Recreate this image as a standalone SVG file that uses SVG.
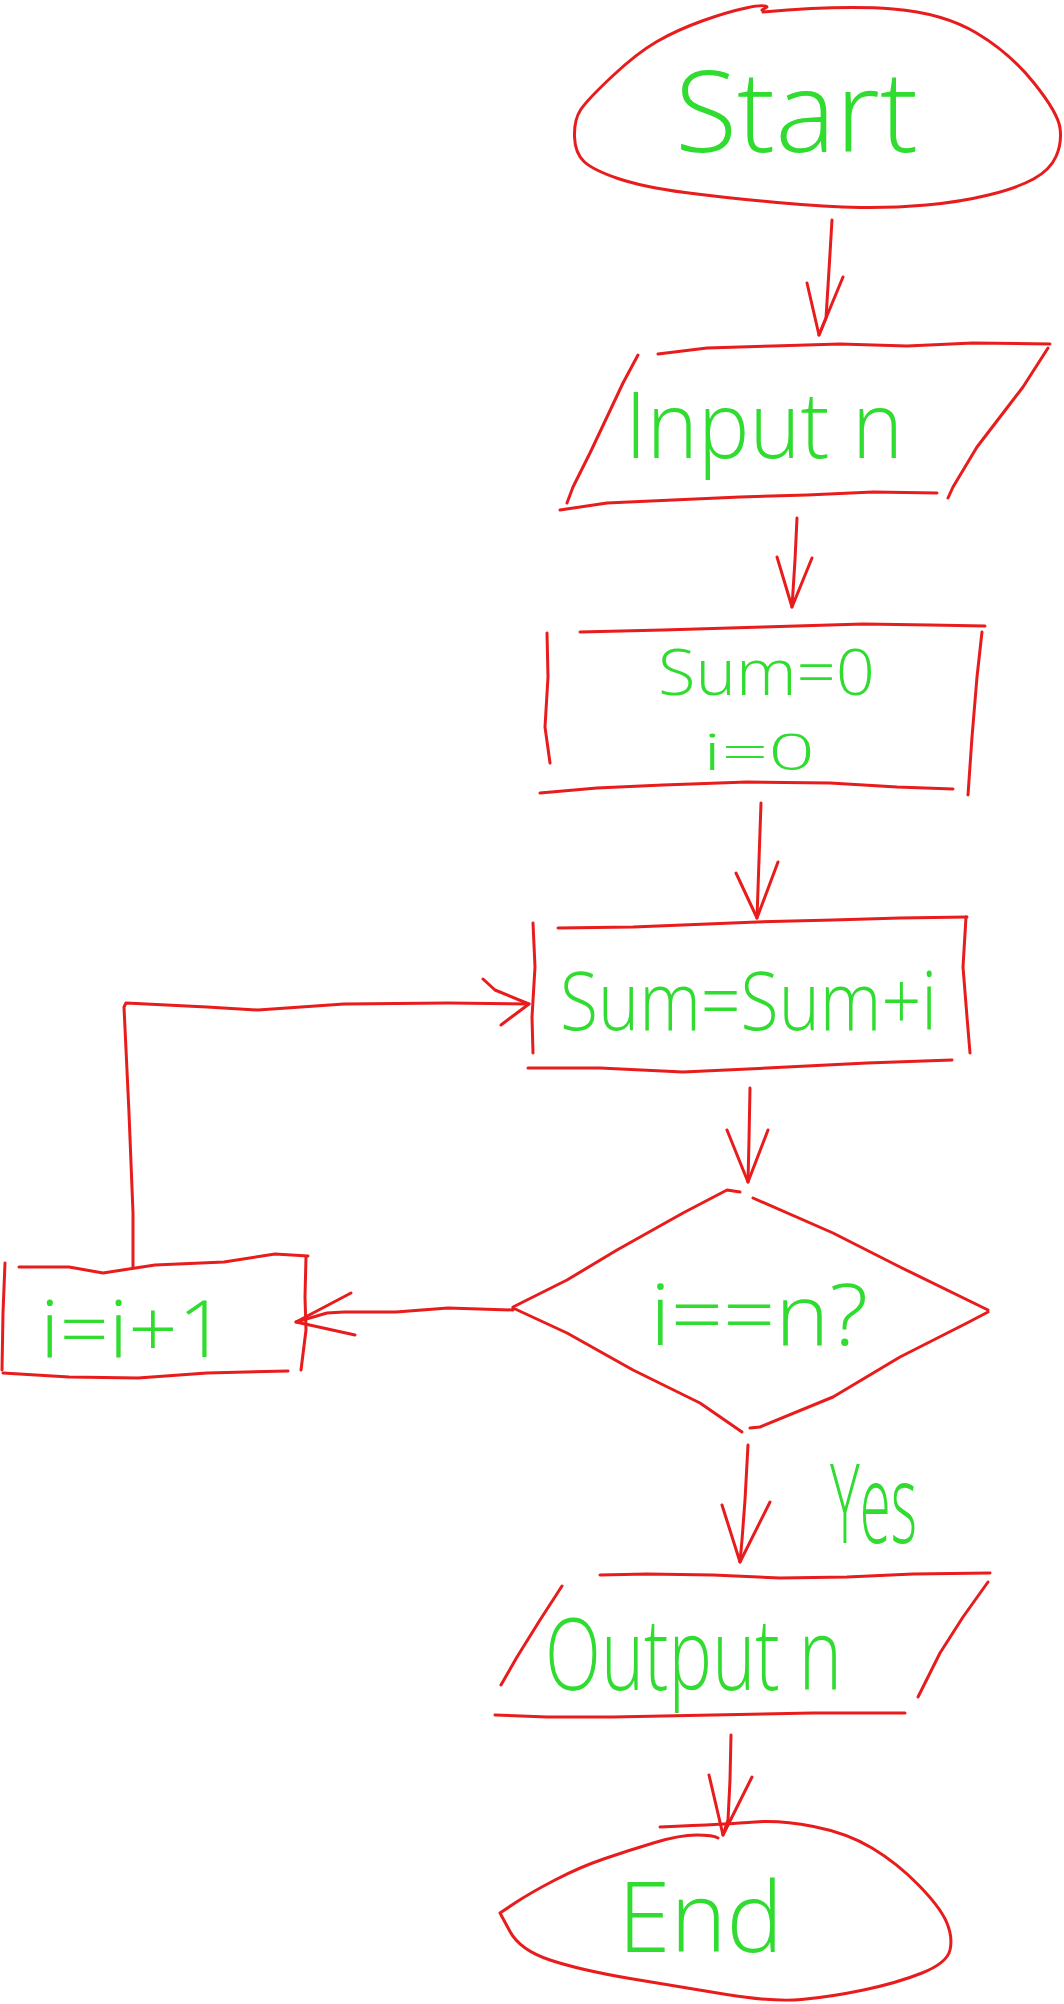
<svg xmlns="http://www.w3.org/2000/svg" width="1064" height="2004" viewBox="0 0 1064 2004">
<style>
.s{fill:none;stroke:#e81c1c;stroke-width:3;stroke-linecap:round;stroke-linejoin:round}
.t{fill:#2fdc2f;font-family:"Open Sans","DejaVu Sans",sans-serif;font-weight:300}
</style>
<rect width="1064" height="2004" fill="#ffffff"/>
<g id="start">
<path class="s" d="M763,12 Q843,5 893,9 Q943,13 976.5,33 Q1010,53 1034,83 Q1058,113 1060,128 Q1062,143 1056,156.5 Q1050,170 1033.5,179 Q1017,188 988.5,195 Q960,202 926.5,205 Q893,208 860,207.5 Q827,207 777,202.5 Q727,198 685,192.5 Q643,187 618,178.5 Q593,170 584,161.5 Q575,153 574.5,136.5 Q574,120 580.5,110 Q587,100 612,76.5 Q637,53 657,41.5 Q677,30 702,21 Q727,12 746,8 Q765,4 767,7 L762,10"/>
<text class="t" x="675" y="152" font-size="112" textLength="243" lengthAdjust="spacingAndGlyphs">Start</text>
</g>
<g id="input">
<polyline class="s" points="658,354 707,348 773,346 840,344 907,346 973,343 1050,344"/>
<polyline class="s" points="1048,348 1023,387 1000,417 977,447 953,487 948,498"/>
<polyline class="s" points="560,510 607,503 673,500 740,497 807,495 873,492 937,493"/>
<polyline class="s" points="638,355 623,383 607,417 590,453 573,487 567,503"/>
<text class="t" x="625" y="458" font-size="92" textLength="278" lengthAdjust="spacingAndGlyphs">Input n</text>
</g>
<g id="init">
<polyline class="s" points="580,632 663,630 763,627 863,624 930,625 985,626"/>
<polyline class="s" points="547,633 548,677 545,727 550,763"/>
<polyline class="s" points="982,632 977,677 972,737 968,795"/>
<polyline class="s" points="540,793 597,788 663,785 747,782 830,783 897,787 953,789"/>
<text class="t" x="658" y="695" font-size="64" textLength="217" lengthAdjust="spacingAndGlyphs">Sum=0</text>
<text class="t" x="703" y="770" font-size="50" textLength="112" lengthAdjust="spacingAndGlyphs">i=0</text>
</g>
<g id="accumulate">
<polyline class="s" points="558,928 633,927 757,922 833,920 900,918 967,917"/>
<polyline class="s" points="533,923 535,967 532,1017 533,1053"/>
<polyline class="s" points="966,917 963,967 967,1017 970,1053"/>
<polyline class="s" points="528,1068 600,1068 683,1072 767,1068 867,1063 952,1060"/>
<text class="t" x="560" y="1030" font-size="82" textLength="377" lengthAdjust="spacingAndGlyphs">Sum=Sum+i</text>
</g>
<g id="decision">
<polyline class="s" points="513,1307 567,1280 617,1250 683,1213 727,1190 740,1192"/>
<polyline class="s" points="753,1198 833,1233 900,1267 988,1310"/>
<polyline class="s" points="988,1312 967,1323 900,1357 833,1397 760,1427 750,1428"/>
<polyline class="s" points="513,1308 567,1333 633,1370 700,1403 742,1432"/>
<text class="t" x="650" y="1345" font-size="85" textLength="218" lengthAdjust="spacingAndGlyphs">i==n?</text>
</g>
<g id="increment">
<polyline class="s" points="19,1267 69,1267 103,1273 155,1265 224,1262 275,1254 308,1256"/>
<polyline class="s" points="5,1263 3,1313 2,1370"/>
<polyline class="s" points="306,1257 305,1297 306,1330 301,1370"/>
<polyline class="s" points="3,1373 69,1377 138,1378 207,1373 288,1371"/>
<text class="t" x="40" y="1357" font-size="80" textLength="187" lengthAdjust="spacingAndGlyphs">i=i+1</text>
</g>
<g id="output">
<polyline class="s" points="600,1575 647,1574 713,1575 780,1578 847,1577 913,1574 990,1573"/>
<polyline class="s" points="988,1582 963,1617 940,1653 918,1697"/>
<polyline class="s" points="495,1715 547,1717 613,1717 713,1715 813,1713 905,1713"/>
<polyline class="s" points="562,1586 540,1620 517,1657 501,1685"/>
<text class="t" x="545" y="1690" font-size="100" textLength="297" lengthAdjust="spacingAndGlyphs">Output n</text>
</g>
<g id="end">
<path class="s" d="M660,1827 Q730,1824 755,1822 Q780,1820 813.5,1826.5 Q847,1833 872,1848 Q897,1863 918.5,1885 Q940,1907 946.5,1922 Q953,1937 950,1950 Q947,1963 922,1973 Q897,1983 863.5,1990 Q830,1997 801.5,1999.5 Q773,2002 726.5,1994.5 Q680,1987 630,1978.5 Q580,1970 550,1960 Q520,1950 510,1931.5 L500,1913 L515,1903 Q530,1893 555,1880 Q580,1867 605,1858.5 Q630,1850 655,1842.5 Q680,1835 696.5,1835 Q713,1835 718,1838"/>
<text class="t" x="618" y="1952" font-size="98" textLength="165" lengthAdjust="spacingAndGlyphs">End</text>
</g>
<g id="connectors">
<polyline class="s" points="832,220 829,270 826,318 819,335"/>
<polyline class="s" points="807,283 819,335 843,277"/>
<polyline class="s" points="797,518 795,560 792,607"/>
<polyline class="s" points="777,557 792,607 812,558"/>
<polyline class="s" points="761,803 759,860 757,918"/>
<polyline class="s" points="736,873 757,918 778,862"/>
<polyline class="s" points="750,1088 749,1140 748,1182"/>
<polyline class="s" points="727,1130 748,1182 768,1130"/>
<polyline class="s" points="513,1310 448,1308 396,1312 344,1312 327,1313 296,1322"/>
<polyline class="s" points="351,1293 296,1322 355,1335"/>
<polyline class="s" points="133,1267 133,1213 129,1113 124,1007 126,1003 207,1007 258,1010 344,1004 448,1003 529,1004"/>
<polyline class="s" points="483,979 495,990 529,1004 501,1025"/>
<polyline class="s" points="748,1445 745,1500 742,1540 740,1562"/>
<polyline class="s" points="722,1505 740,1562 770,1502"/>
<text class="t" x="830" y="1543" font-size="110" textLength="87" lengthAdjust="spacingAndGlyphs">Yes</text>
<polyline class="s" points="731,1735 730,1780 728,1820 723,1835"/>
<polyline class="s" points="709,1775 723,1835 752,1777"/>
</g>
</svg>
